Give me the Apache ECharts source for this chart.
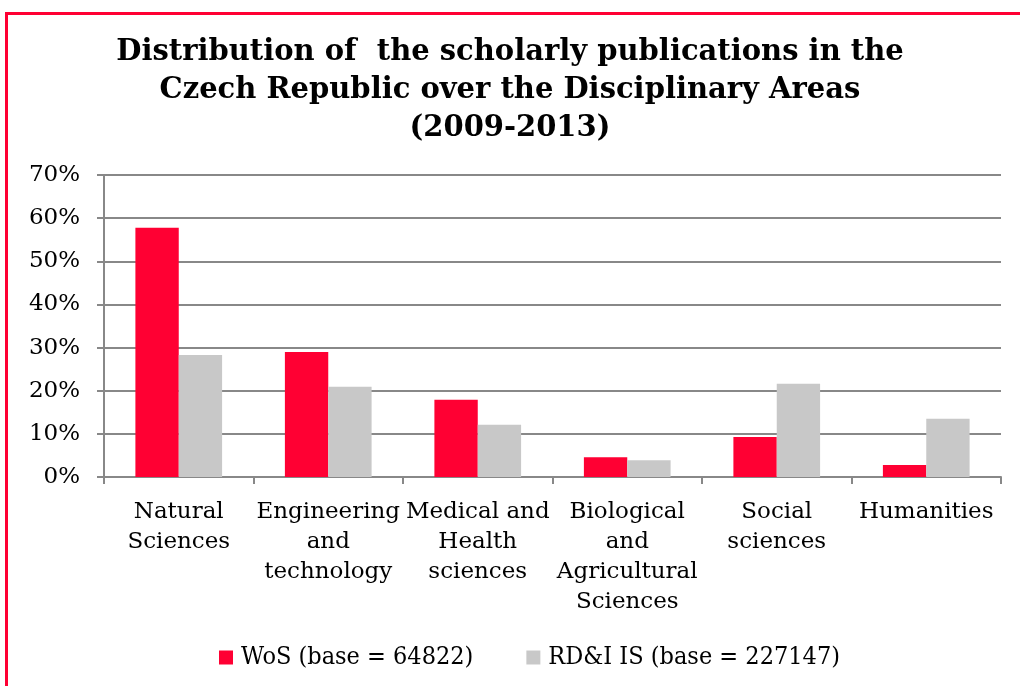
<!DOCTYPE html>
<html><head><meta charset="utf-8">
<style>html,body{margin:0;padding:0;background:#fff}#c{width:1020px;height:686px}</style>
<script src="https://cdn.jsdelivr.net/npm/echarts@6/dist/echarts.min.js"></script>
</head><body><div id="c"></div>
<script>
const categories = ['Natural\nSciences','Engineering\nand\ntechnology','Medical and\nHealth\nsciences','Biological\nand\nAgricultural\nSciences','Social\nsciences','Humanities'];
const wosValues = [57.8, 29.0, 17.9, 4.6, 9.3, 2.8];
const rdiValues = [28.3, 20.9, 12.1, 3.9, 21.6, 13.5];
const seriesNames = ['WoS (base = 64822)', 'RD&I IS (base = 227147)'];
const titleText = 'Distribution of  the scholarly publications in the\nCzech Republic over the Disciplinary Areas\n(2009-2013)';

const chart = echarts.init(document.getElementById('c'));
const serif = 'DejaVu Serif';
chart.setOption({
  animation: false,
  title: {
    text: titleText, left: 'center', top: 28,
    textStyle: {fontFamily: serif, fontWeight: 'bold', fontSize: 29, lineHeight: 38, color: '#000'}
  },
  graphic: [
    {type: 'rect', shape: {x: 5, y: 12, width: 3, height: 674}, style: {fill: '#FF0033'}},
    {type: 'rect', shape: {x: 5, y: 12, width: 1015, height: 3}, style: {fill: '#FF0033'}}
  ],
  legend: {
    bottom: 11, left: 214, itemWidth: 14, itemHeight: 14, itemGap: 53,
    icon: 'rect',
    textStyle: {fontFamily: 'DejaVu Serif Condensed', fontSize: 25, color: '#000', padding: [0, 0, 0, 3]}
  },
  grid: {left: 104, right: 19, top: 175, bottom: 209, containLabel: false},
  xAxis: {
    type: 'category', data: categories,
    axisLine: {lineStyle: {color: '#888', width: 2}},
    axisTick: {show: true, alignWithLabel: false, length: 7, lineStyle: {color: '#888', width: 2}},
    axisLabel: {fontFamily: serif, fontSize: 23, lineHeight: 30, color: '#000', interval: 0, margin: 20}
  },
  yAxis: {
    type: 'value', min: 0, max: 70, interval: 10,
    axisLine: {show: true, lineStyle: {color: '#888', width: 2}},
    axisTick: {show: true, length: 7, lineStyle: {color: '#888', width: 2}},
    splitLine: {lineStyle: {color: '#888', width: 2}},
    axisLabel: {formatter: '{value}%', fontFamily: serif, fontSize: 23, color: '#000', margin: 24}
  },
  series: [
    {name: seriesNames[0], type: 'bar', data: wosValues, barGap: '0%', barCategoryGap: '42%',
     itemStyle: {color: '#FF0033'}},
    {name: seriesNames[1], type: 'bar', data: rdiValues,
     itemStyle: {color: '#C8C8C8'}}
  ]
});
</script></body></html>
